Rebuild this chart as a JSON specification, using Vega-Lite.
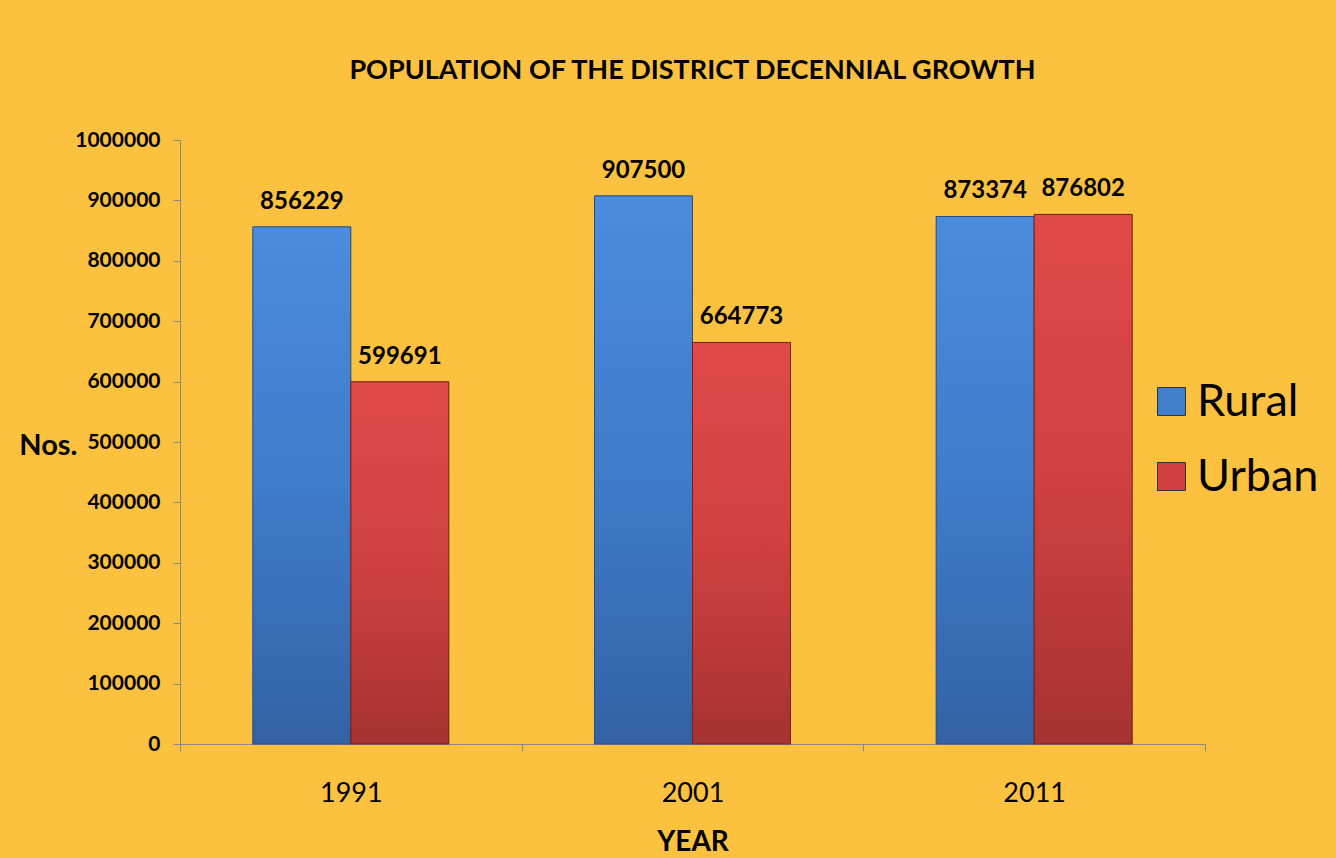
{
  "$schema": "https://vega.github.io/schema/vega-lite/v6.json",
  "width": 1025,
  "height": 604,
  "autosize": {"type": "none"},
  "padding": {"left": 180, "top": 140, "right": 131, "bottom": 114},
  "background": "#FCC23F",
  "config": {"view": {"stroke": null}},
  "title": {"text": "POPULATION OF THE DISTRICT DECENNIAL GROWTH", "fontSize": 27, "font": "Lato", "fontWeight": "bold", "color": "#000000", "anchor": "middle", "offset": 44},
  "data": {"values": [
    {"year": "1991", "type": "Rural", "value": 856229},
    {"year": "1991", "type": "Urban", "value": 599691},
    {"year": "2001", "type": "Rural", "value": 907500},
    {"year": "2001", "type": "Urban", "value": 664773},
    {"year": "2011", "type": "Rural", "value": 873374},
    {"year": "2011", "type": "Urban", "value": 876802}
  ]},
  "encoding": {
    "x": {"field": "year", "type": "nominal", "title": "YEAR",
      "scale": {"paddingInner": 0, "paddingOuter": 0},
      "axis": {"labelAngle": 0, "labelFontSize": 27, "labelFont": "Lato", "labelColor": "#000000", "labelPadding": 29, "tickBand": "extent", "tickSize": 7, "domainColor": "#8a8a8a", "tickColor": "#8a8a8a", "titleFontSize": 28, "titleFont": "Lato", "titleFontWeight": "bold", "titleColor": "#000000", "titleY": 98, "titleBaseline": "middle"}},
    "xOffset": {"field": "type", "type": "nominal", "scale": {"domain": ["Rural", "Urban"], "paddingOuter": 0.743, "paddingInner": 0}},
    "y": {"field": "value", "type": "quantitative", "title": "Nos.",
      "scale": {"domain": [0, 1000000]},
      "axis": {"values": [0, 100000, 200000, 300000, 400000, 500000, 600000, 700000, 800000, 900000, 1000000], "format": "d", "grid": false, "domainColor": "#8a8a8a", "tickColor": "#8a8a8a", "tickSize": 7, "labelFontSize": 21, "labelFontWeight": "bold", "labelFont": "Lato", "labelColor": "#000000", "labelPadding": 13, "titleAngle": 0, "titleX": -103, "titleY": 305, "titleAlign": "right", "titleBaseline": "middle", "titleFontSize": 29, "titleFont": "Lato", "titleFontWeight": "bold", "titleColor": "#000000"}}
  },
  "layer": [
    {"mark": {"type": "bar"},
     "encoding": {"color": {"field": "type", "type": "nominal",
       "scale": {"domain": ["Rural", "Urban"], "range": ["#3F7FCC", "#D13F3F"]},
       "legend": {"orient": "none", "legendX": 969, "legendY": 239, "title": null, "symbolType": "square", "symbolSize": 784, "labelFontSize": 45, "labelFont": "Lato", "labelColor": "#000000", "labelOffset": 3, "rowPadding": 29, "symbolStrokeColor": "#333333", "symbolStrokeWidth": 1, "symbolOpacity": 1}}}},
    {"transform": [{"filter": "datum.type === 'Rural'"}],
     "mark": {"type": "bar", "fill": {"gradient": "linear", "x1": 0, "y1": 0, "x2": 0, "y2": 1, "stops": [{"offset": 0, "color": "#4A8DDC"}, {"offset": 0.5, "color": "#3F7CC9"}, {"offset": 1, "color": "#3362A5"}]}, "stroke": "#2A4D7E", "strokeWidth": 1}},
    {"transform": [{"filter": "datum.type === 'Urban'"}],
     "mark": {"type": "bar", "fill": {"gradient": "linear", "x1": 0, "y1": 0, "x2": 0, "y2": 1, "stops": [{"offset": 0, "color": "#E04A48"}, {"offset": 0.5, "color": "#CF4140"}, {"offset": 1, "color": "#A63232"}]}, "stroke": "#6E2222", "strokeWidth": 1}},
    {"mark": {"type": "text", "baseline": "alphabetic", "dy": -18, "fontSize": 24, "fontWeight": "bold", "font": "Lato", "color": "#000000"},
     "encoding": {"text": {"field": "value", "type": "quantitative", "format": "d"}}}
  ]
}
